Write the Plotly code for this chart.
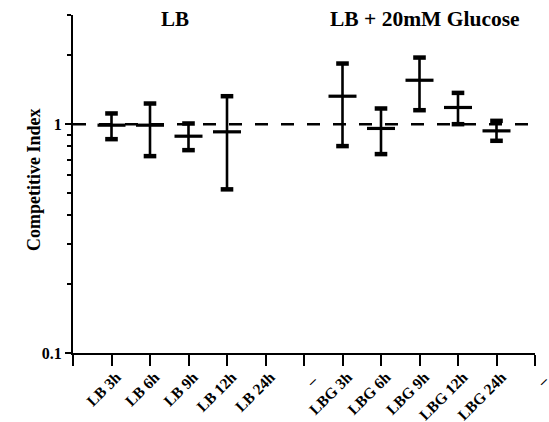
import plotly.graph_objects as go

# Category axis labels (one per tick position 1..12)
categories = ["LB 3h", "LB 6h", "LB 9h", "LB 12h", "LB 24h", "_",
              "LBG 3h", "LBG 6h", "LBG 9h", "LBG 12h", "LBG 24h", "_"]

# Competitive index: median with range, per condition
samples = ["LB 3h", "LB 6h", "LB 9h", "LB 12h",
           "LBG 3h", "LBG 6h", "LBG 9h", "LBG 12h", "LBG 24h"]
ci_mid = [0.99, 0.99, 0.886, 0.926, 1.325, 0.958, 1.556, 1.183, 0.935]
ci_low = [0.86, 0.725, 0.77, 0.519, 0.802, 0.74, 1.151, 1.0, 0.846]
ci_high = [1.114, 1.231, 1.007, 1.325, 1.841, 1.171, 1.955, 1.37, 1.034]

y_minor = [0.2, 0.3, 0.4, 0.5, 0.6, 0.7, 0.8, 0.9, 2, 3]

FONT = "Liberation Serif"

xpos = [categories.index(s) + 1 for s in samples]
plus = [h - m for h, m in zip(ci_high, ci_mid)]
minus = [m - l for m, l in zip(ci_mid, ci_low)]

fig = go.Figure()

# reference line at CI = 1
fig.add_trace(go.Scatter(
    x=[0, len(categories)], y=[1, 1], mode="lines",
    line=dict(color="black", width=2.5, dash="13px,13px"),
    hoverinfo="skip", showlegend=False,
))

# median bars with range whiskers
fig.add_trace(go.Scatter(
    x=xpos, y=ci_mid, mode="markers",
    marker=dict(symbol="line-ew", size=20, color="black",
                line=dict(color="black", width=3.2)),
    error_y=dict(type="data", symmetric=False, array=plus, arrayminus=minus,
                 color="black", thickness=2.6, width=0),
    showlegend=False,
))

# whisker end caps
fig.add_trace(go.Scatter(
    x=xpos + xpos, y=ci_low + ci_high, mode="markers",
    marker=dict(symbol="line-ew", size=9, color="black",
                line=dict(color="black", width=4.5)),
    showlegend=False, hoverinfo="skip",
))

fig.update_layout(
    width=549, height=422,
    margin=dict(l=73, r=14, t=15, b=69),
    paper_bgcolor="white", plot_bgcolor="white",
    font=dict(family=FONT, color="black"),
    xaxis=dict(
        range=[0, len(categories)],
        tickvals=list(range(len(categories) + 1)),
        ticktext=[""] + categories,
        tickangle=-45,
        ticks="outside", ticklen=11, tickwidth=2, tickcolor="black",
        ticklabelshift=5, ticklabelstandoff=-4, ticklabeloverflow="allow",
        showline=True, linecolor="black", linewidth=2,
        showgrid=False, zeroline=False,
        tickfont=dict(family=FONT, size=15.5, color="black", weight="bold"),
        automargin=False,
    ),
    yaxis=dict(
        type="log", range=[-1, 0.47712],
        tickvals=[0.1, 1], ticktext=["0.1", "1"],
        ticks="outside", ticklen=6, tickwidth=1.5, tickcolor="black",
        minor=dict(tickvals=y_minor, ticks="outside", ticklen=4,
                   tickwidth=1.5, tickcolor="black", showgrid=False),
        showline=True, linecolor="black", linewidth=2,
        showgrid=False, zeroline=False,
        tickfont=dict(family=FONT, size=16, color="black", weight="bold"),
        automargin=False,
    ),
    annotations=[
        dict(text="Competitive Index", textangle=-90,
             x=-0.0842, xref="paper", y=0.512, yref="paper",
             xanchor="center", yanchor="middle", showarrow=False,
             font=dict(family=FONT, size=18, color="black", weight="bold")),
        dict(text="LB", x=2.66, xref="x", y=0.987, yref="paper",
             xanchor="center", yanchor="middle", showarrow=False,
             font=dict(family=FONT, size=21, color="black", weight="bold")),
        dict(text="LB + 20mM Glucose", x=9.13, xref="x", y=0.987, yref="paper",
             xanchor="center", yanchor="middle", showarrow=False,
             font=dict(family=FONT, size=21.5, color="black", weight="bold")),
    ],
)

fig.write_html("out.html")
